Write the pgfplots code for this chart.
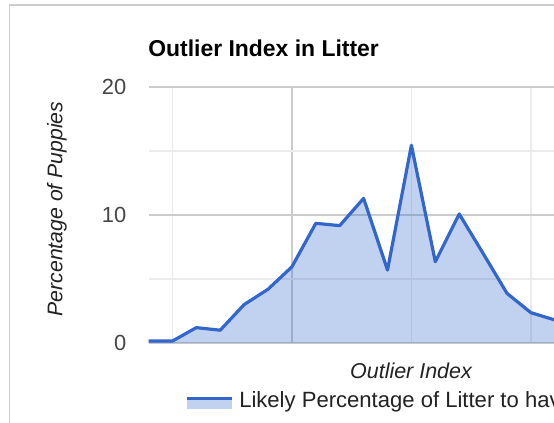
\documentclass[border=0pt]{standalone}
\usepackage{fontspec}
\setmainfont{Liberation Sans}
\usepackage{pgfplots}
\usepackage{pgfplotstable}
\pgfplotsset{compat=1.18}
\definecolor{gblue}{HTML}{3366CC}
\definecolor{gridmaj}{HTML}{CCCCCC}
\definecolor{gridmin}{HTML}{EBEBEB}
\definecolor{basec}{HTML}{333333}
\definecolor{ticktxt}{HTML}{444444}
\definecolor{labtxt}{HTML}{222222}
\definecolor{borderc}{HTML}{CCCCCC}
\pgfplotstableread{
idx val
0 0.15
1 0.15
2 1.2
3 1.0
4 3.0
5 4.2
6 5.95
7 9.35
8 9.17
9 11.3
10 5.7
11 15.45
12 6.35
13 10.08
14 7.0
15 3.88
16 2.37
17 1.8
18 1.3
}\datatable
\begin{document}
\begin{tikzpicture}
\def\px{0.75pt}
\path[use as bounding box] (0,0) rectangle (554*\px,-422*\px);
\clip (0,0) rectangle (554*\px,-422*\px);
\draw[color=borderc, line width=1.5*\px] (9.3*\px,-430*\px) -- (9.3*\px,-4.8*\px) -- (570*\px,-4.8*\px);
\node[anchor=base west, inner sep=0pt, font=\fontsize{17.2pt}{20pt}\selectfont\bfseries] at (148*\px,-56*\px) {Outlier Index in Litter};
\node[rotate=90, anchor=base, inner sep=0pt, text=labtxt, font=\fontsize{15.9pt}{19pt}\selectfont\itshape] at (62.3*\px,-209*\px) {Percentage of Puppies};
\node[anchor=base, inner sep=0pt, text=labtxt, font=\fontsize{16.1pt}{19pt}\selectfont\itshape] at (411*\px,-378*\px) {Outlier Index};
\begin{axis}[
  at={(148.5*\px,-343*\px)}, anchor=south west,
  scale only axis, width=322.65pt, height=192pt,
  xmin=0, xmax=18, ymin=0, ymax=20,
  axis line style={draw=none},
  tick style={draw=none},
  major tick length=0pt, minor tick length=0pt,
  xtick={6}, minor xtick={1,11,16}, xticklabels={},
  ytick={0,10,20}, minor ytick={5,15},
  grid=both,
  major grid style={color=gridmaj, line width=1.3*\px},
  minor grid style={color=gridmin, line width=1.3*\px},
  extra y ticks={0}, extra y tick labels={},
  extra y tick style={grid style={color=basec, line width=1.5*\px}},
  /pgf/number format/assume math mode=true,
  yticklabel style={anchor=east, inner sep=0pt, xshift=-16.5pt, text=ticktxt, font=\fontsize{16.4pt}{19pt}\selectfont},
]
\addplot[draw=none, fill=gblue, fill opacity=0.3] table[x=idx, y=val] {\datatable} \closedcycle;
\addplot[color=gblue, line width=2.4pt, line join=round, mark=none] table[x=idx, y=val] {\datatable};
\end{axis}
\fill[gblue, fill opacity=0.3] (187*\px,-400*\px) rectangle (232*\px,-409.3*\px);
\draw[gblue, line width=3.3*\px] (187*\px,-398.3*\px) -- (232*\px,-398.3*\px);
\node[anchor=base west, inner sep=0pt, text=labtxt, font=\fontsize{16.55pt}{19pt}\selectfont] at (239*\px,-407.7*\px) {Likely Percentage of Litter to have this Outlier Index};
\end{tikzpicture}
\end{document}
